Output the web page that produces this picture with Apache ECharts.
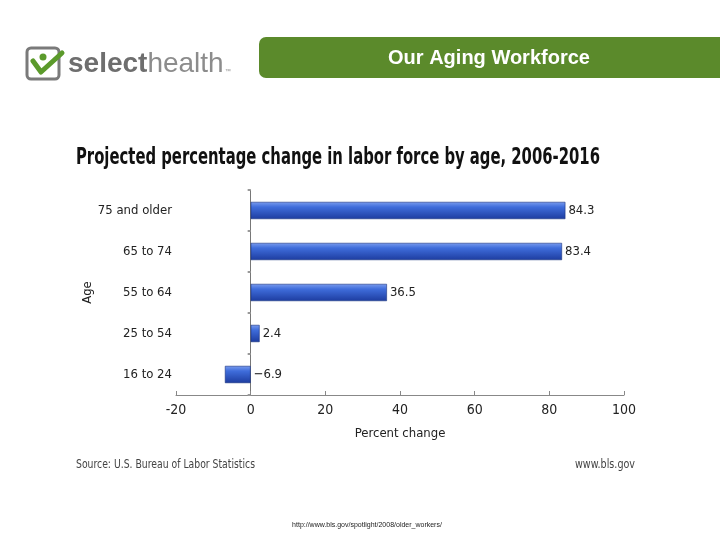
<!DOCTYPE html>
<html>
<head>
<meta charset="utf-8">
<script src="https://cdn.jsdelivr.net/npm/echarts@6/dist/echarts.min.js"></script>
<style>
html,body{margin:0;padding:0;background:#fff;}
#c{width:720px;height:540px;}
</style>
</head>
<body>
<div id="c"></div>
<script>
var categories = ['16 to 24', '25 to 54', '55 to 64', '65 to 74', '75 and older'];
var values = [-6.9, 2.4, 36.5, 83.4, 84.3];
var xTicks = { min: -20, max: 100, interval: 20 };
var titleText = 'Projected percentage change in labor force by age, 2006-2016';
var bannerText = 'Our Aging Workforce';
var sourceText = 'Source: U.S. Bureau of Labor Statistics';
var siteText = 'www.bls.gov';
var urlText = 'http://www.bls.gov/spotlight/2008/older_workers/';

var narrow = '"DejaVu Sans Condensed", "DejaVu Sans", sans-serif';
var chart = echarts.init(document.getElementById('c'));

// measure text to compute horizontal condensing factor
var mctx = document.createElement('canvas').getContext('2d');
function fitScale(text, font, targetWidth) {
  mctx.font = font;
  var w = mctx.measureText(text).width;
  return w > 0 ? Math.min(1, targetWidth / w) : 1;
}

var titleFont = 'bold 23px ' + narrow;
var footFont = '12.5px ' + narrow;

var barColor = new echarts.graphic.LinearGradient(0, 0, 0, 1, [
  { offset: 0, color: '#7a9cee' },
  { offset: 0.3, color: '#3f6ddb' },
  { offset: 1, color: '#1d3c9f' }
]);

chart.setOption({
  animation: false,
  backgroundColor: '#ffffff',
  grid: { left: 176, right: 96, top: 190, bottom: 145, containLabel: false, outerBoundsMode: 'none' },
  xAxis: {
    type: 'value',
    min: xTicks.min, max: xTicks.max, interval: xTicks.interval,
    name: 'Percent change', nameLocation: 'middle', nameGap: 32, nameMoveOverlap: false,
    nameTextStyle: { fontFamily: narrow, fontSize: 13, color: '#222' },
    axisLine: { show: true, lineStyle: { color: '#888', width: 1 } },
    axisTick: { show: true, inside: true, length: 4, lineStyle: { color: '#888' } },
    axisLabel: { fontFamily: narrow, fontSize: 14, color: '#222', margin: 8 },
    splitLine: { show: false }
  },
  yAxis: {
    type: 'category',
    data: categories,
    name: 'Age', nameLocation: 'middle', nameGap: 82, nameRotate: 90, nameMoveOverlap: false,
    nameTextStyle: { fontFamily: narrow, fontSize: 13, color: '#222' },
    axisLine: { show: true, onZero: true, lineStyle: { color: '#777', width: 1 } },
    axisTick: { show: true, length: 3, lineStyle: { color: '#999', width: 2 } },
    axisLabel: { fontFamily: narrow, fontSize: 13, color: '#222', margin: 4 }
  },
  series: [{
    type: 'bar',
    data: values,
    barWidth: '42%',
    itemStyle: { color: barColor, borderColor: '#1a3280', borderWidth: 0.6 },
    label: {
      show: true,
      position: 'right',
      distance: 3,
      fontFamily: narrow, fontSize: 13, color: '#222',
      formatter: function (p) {
        return p.value < 0 ? '\u2212' + Math.abs(p.value).toFixed(1) : p.value.toFixed(1);
      }
    }
  }],
  graphic: [
    // Title (condensed horizontally to match)
    {
      type: 'text', x: 76, y: 158, scaleX: fitScale(titleText, titleFont, 524),
      style: { text: titleText, fill: '#111', font: titleFont, verticalAlign: 'middle' }
    },
    // Green banner
    {
      type: 'rect', shape: { x: 259, y: 37, width: 470, height: 41, r: [7, 0, 0, 7] },
      style: { fill: '#5b8a2b' }
    },
    {
      type: 'text', x: 489, y: 58,
      style: { text: bannerText, fill: '#fff', font: 'bold 20px Arial, "Liberation Sans", sans-serif', align: 'center', verticalAlign: 'middle' }
    },
    // Logo
    {
      type: 'rect', shape: { x: 27, y: 48, width: 32, height: 31, r: 4 },
      style: { fill: 'none', stroke: '#7a7a7a', lineWidth: 3 }
    },
    {
      type: 'polyline', shape: { points: [[33, 61], [41, 72], [62, 53]] },
      style: { stroke: '#5b9a2b', lineWidth: 5, fill: 'none', lineJoin: 'round', lineCap: 'round' }
    },
    {
      type: 'circle', shape: { cx: 43, cy: 57, r: 3.5 },
      style: { fill: '#5b9a2b' }
    },
    {
      type: 'text', x: 68, y: 64,
      style: {
        text: '{a|select}{b|health}{c|™}',
        verticalAlign: 'middle',
        rich: {
          a: { font: 'bold 28px Arial, "Liberation Sans", sans-serif', fill: '#6e6e6e' },
          b: { font: '28px Arial, "Liberation Sans", sans-serif', fill: '#8c8c8c' },
          c: { font: '6px Arial, sans-serif', fill: '#8c8c8c', padding: [14, 0, 0, 1] }
        }
      }
    },
    // Footer
    {
      type: 'text', x: 76, y: 465, scaleX: fitScale(sourceText, footFont, 179),
      style: { text: sourceText, fill: '#444', font: footFont, verticalAlign: 'middle' }
    },
    {
      type: 'text', x: 635, y: 465, scaleX: fitScale(siteText, footFont, 60),
      style: { text: siteText, fill: '#444', font: footFont, align: 'right', verticalAlign: 'middle' }
    },
    {
      type: 'text', x: 367, y: 525,
      style: { text: urlText, fill: '#222', font: '7px Arial, sans-serif', align: 'center', verticalAlign: 'middle' }
    }
  ]
});
</script>
</body>
</html>
